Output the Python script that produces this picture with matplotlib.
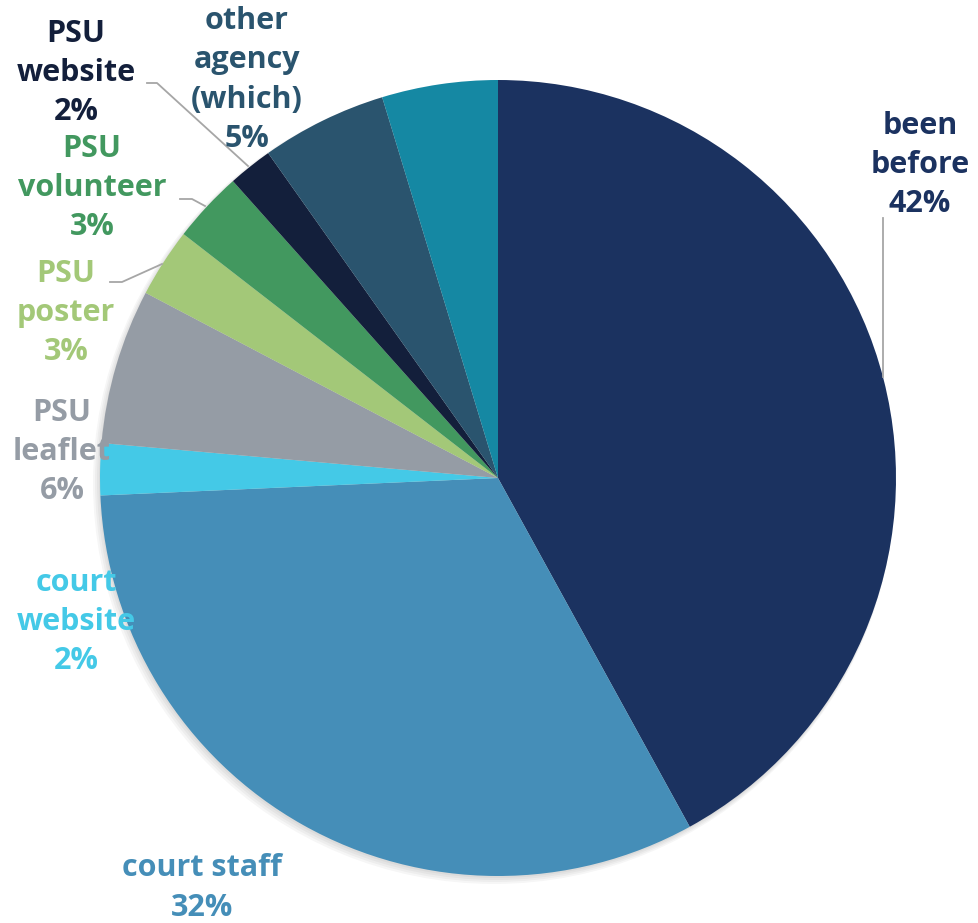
import matplotlib.pyplot as plt
from matplotlib.patches import Circle

# slice data (clockwise from 12 o'clock)
categories = ["been\nbefore", "court staff", "court\nwebsite", "PSU\nleaflet", "PSU\nposter",
              "PSU\nvolunteer", "PSU\nwebsite", "other\nagency\n(which)", ""]
shares = [42.0, 32.3, 2.1, 6.3, 2.8, 2.9, 1.8, 5.1, 4.7]
colors = ["#1B3260", "#458EB8", "#44C9E7", "#959CA5", "#A3C878",
          "#42985F", "#131F3B", "#2A546E", "#1588A3"]

W, H = 979, 923
CX, CY, R = 498, H - 478, 398

# label placement in pixel space (x, y from top)
label_pos = [(920, 165), (202, 888), (76, 622), (62, 452), (66, 313),
             (92, 188), (76, 73), (247, 80), None]
# leader lines (pixel space, y from top)
leaders = {
    0: [(883, 218), (883, 377)],
    4: [(110, 282), (122, 282), (162, 264)],
    5: [(180, 199), (192, 199), (205, 206)],
    6: [(147, 83), (157, 83), (248, 166)],
}

plt.rcParams['font.family'] = ['Open Sans', 'DejaVu Sans']

fig = plt.figure(figsize=(W / 100, H / 100), dpi=100)
ax = fig.add_axes([0, 0, 1, 1])

# soft shadow behind the pie
for i in range(4):
    ax.add_patch(Circle((CX - 1 - i, CY - 2 - i), R + i, color="black", alpha=0.035, lw=0, zorder=0))

ax.pie(shares, colors=colors, startangle=90, counterclock=False,
       center=(CX, CY), radius=R, wedgeprops=dict(linewidth=0))

for i, (lab, val) in enumerate(zip(categories, shares)):
    if not lab or label_pos[i] is None:
        continue
    x, y = label_pos[i]
    ax.text(x, H - y, f"{lab}\n{round(val):d}%", ha="center", va="center",
            color=colors[i], fontsize=22, fontweight="bold", linespacing=1.4, zorder=5)

for i, pts in leaders.items():
    xs = [p[0] for p in pts]
    ys = [H - p[1] for p in pts]
    ax.plot(xs, ys, color="#A6A6A6", lw=1.3, zorder=4)

ax.set_xlim(0, W)
ax.set_ylim(0, H)
ax.set_aspect("equal")
ax.axis("off")

fig.savefig("out.png", dpi=100)
